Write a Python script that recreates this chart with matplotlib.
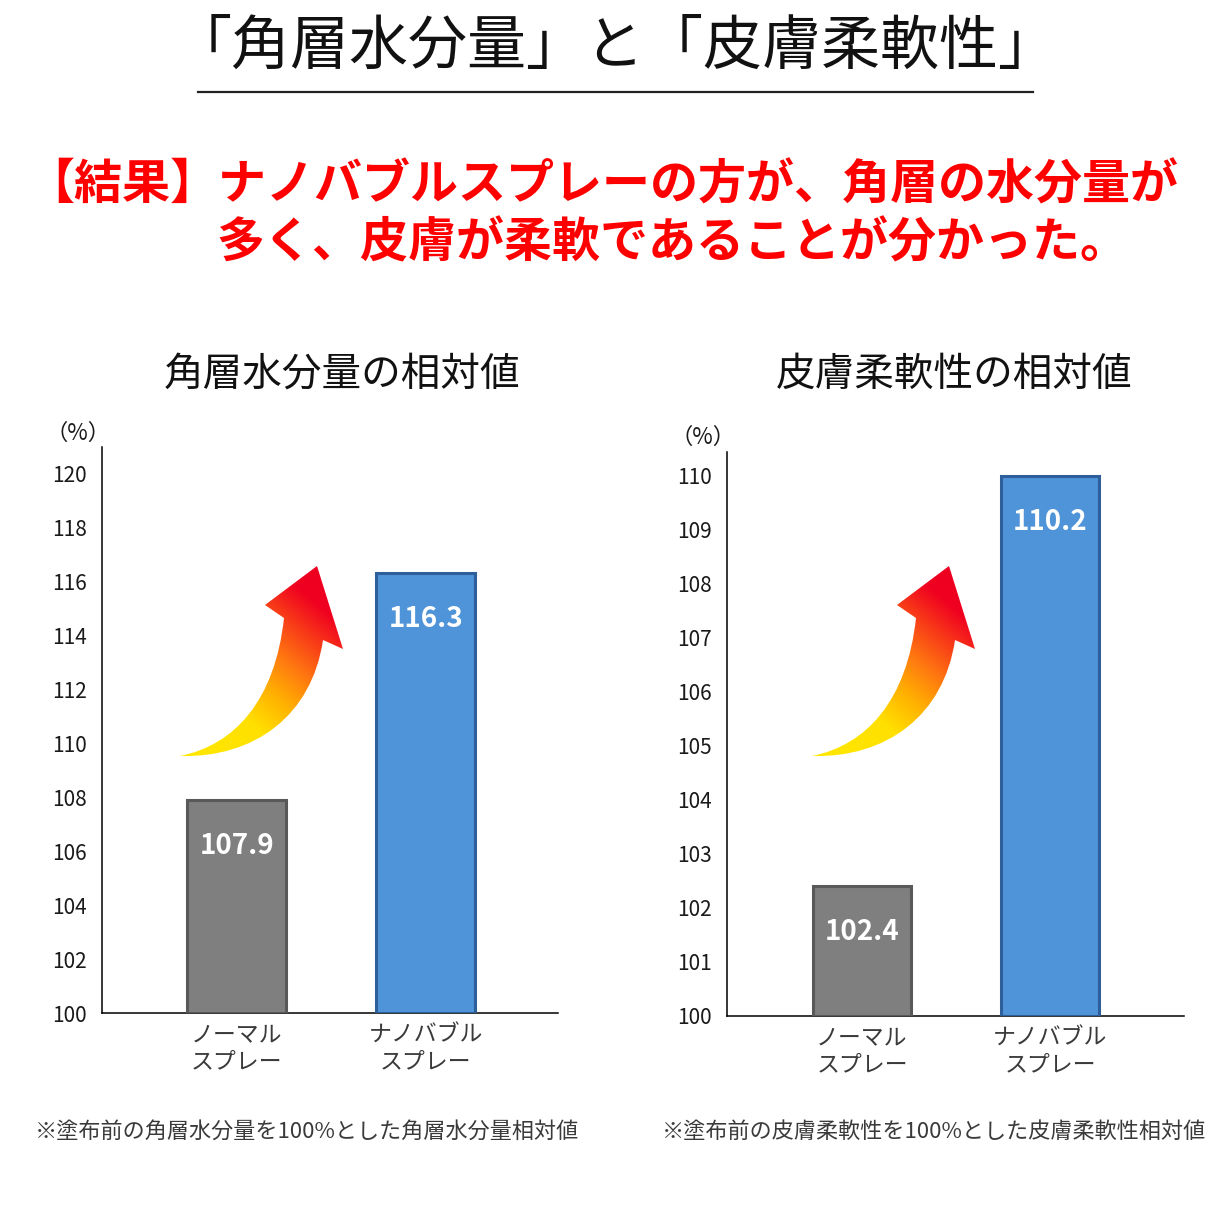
import numpy as np
import matplotlib
matplotlib.use("Agg")
import matplotlib.pyplot as plt
from matplotlib.path import Path
from matplotlib.patches import PathPatch
from matplotlib.colors import LinearSegmentedColormap

plt.rcParams['font.family'] = ['Noto Sans CJK JP', 'DejaVu Sans']

# ---------------- data ----------------
categories = ["ノーマル\nスプレー", "ナノバブル\nスプレー"]
moisture_values = [107.9, 116.3]
softness_values = [102.4, 110.2]
moisture_ticks = [100, 102, 104, 106, 108, 110, 112, 114, 116, 118, 120]
softness_ticks = [100, 101, 102, 103, 104, 105, 106, 107, 108, 109, 110]
main_title = "「角層水分量」と「皮膚柔軟性」"
result_line1 = "【結果】ナノバブルスプレーの方が、角層の水分量が"
result_line2 = "多く、皮膚が柔軟であることが分かった。"
moisture_title = "角層水分量の相対値"
softness_title = "皮膚柔軟性の相対値"
moisture_note = "※塗布前の角層水分量を100%とした角層水分量相対値"
softness_note = "※塗布前の皮膚柔軟性を100%とした皮膚柔軟性相対値"
unit_label = "（%）"

bar_fill = ["#7f7f7f", "#4f93d8"]
bar_edge = ["#595959", "#2d5f9a"]

W = H = 1230
fig = plt.figure(figsize=(12.3, 12.3), dpi=100)
fig.patch.set_facecolor("white")

def fx(px):
    return px / W

def fy(py):
    return 1 - py / H

def make_chart(rect_px, ticks, values, ylim_top, xlim):
    l, t, r, b = rect_px
    ax = fig.add_axes([fx(l), fy(b), fx(r - l), (b - t) / H])
    x = np.arange(len(values))
    heights = np.minimum(np.array(values), ticks[-1]) - ticks[0]
    ax.bar(x, heights, bottom=ticks[0], width=0.525,
           color=bar_fill, edgecolor=bar_edge, linewidth=2.2, zorder=3)
    ax.set_ylim(ticks[0], ylim_top)
    ax.set_xlim(*xlim)
    ax.set_yticks(ticks)
    ax.set_yticklabels([str(t) for t in ticks])
    ax.set_xticks(x)
    ax.set_xticklabels(categories, linespacing=1.2)
    ax.tick_params(axis='y', length=0, pad=11, labelsize=15, labelcolor="#1a1a1a")
    ax.tick_params(axis='x', length=0, pad=8, labelsize=16.5, labelcolor="#3a3a3a")
    for s in ["top", "right"]:
        ax.spines[s].set_visible(False)
    for s in ["left", "bottom"]:
        ax.spines[s].set_linewidth(1.1)
        ax.spines[s].set_color("black")
    for xi, v, hgt in zip(x, values, heights):
        ax.annotate(f"{v:.1f}", xy=(xi, ticks[0] + hgt), xytext=(0, -33),
                    textcoords="offset points", ha="center", va="center",
                    color="white", fontsize=20, fontweight="bold", zorder=5)
    return ax

ax1 = make_chart((102, 447, 558, 1013), moisture_ticks, moisture_values,
                 100 + 566 / 27.0, (-0.714, 1.70))
ax2 = make_chart((727, 452, 1184, 1016), softness_ticks, softness_values,
                 100 + 564 / 54.0, (-0.718, 1.713))

# overlay in pixel coordinates for decorations
ov = fig.add_axes([0, 0, 1, 1], zorder=10)
ov.set_xlim(0, W)
ov.set_ylim(H, 0)
ov.axis("off")
ov.patch.set_alpha(0)

ov.text(615, 47, main_title, ha="center", va="center", fontsize=42.5, color="#111111")
ov.plot([198, 1033], [92, 92], color="#222222", lw=1.6)
ov.text(26, 185, result_line1, ha="left", va="center", fontsize=34.6,
        fontweight="bold", color="#ff0000")
ov.text(216, 243, result_line2, ha="left", va="center", fontsize=34.6,
        fontweight="bold", color="#ff0000")
ov.text(342, 375, moisture_title, ha="center", va="center", fontsize=28.5, color="#111111")
ov.text(954, 375, softness_title, ha="center", va="center", fontsize=28.5, color="#111111")
ov.text(78, 433, unit_label, ha="center", va="center", fontsize=16, color="#1a1a1a")
ov.text(703, 437, unit_label, ha="center", va="center", fontsize=16, color="#1a1a1a")
ov.text(307, 1132, moisture_note, ha="center", va="center", fontsize=15.9, color="#3a3a3a")
ov.text(934, 1132, softness_note, ha="center", va="center", fontsize=15.9, color="#3a3a3a")

# gradient curved arrows
cmap = LinearSegmentedColormap.from_list(
    "arr", [(0.0, "#ffe800"), (0.3, "#ffe000"), (0.45, "#ffb400"),
            (0.6, "#ff7a10"), (0.75, "#f83a18"), (0.88, "#f00020"), (1.0, "#ee0022")])

def arrow(dx):
    verts = [(180, 756), (235, 745), (275, 700), (284, 618),
             (265, 605), (317, 566), (343, 649), (323, 640),
             (312, 715), (255, 758), (180, 756), (180, 756)]
    codes = [Path.MOVETO, Path.CURVE4, Path.CURVE4, Path.CURVE4,
             Path.LINETO, Path.LINETO, Path.LINETO, Path.LINETO,
             Path.CURVE4, Path.CURVE4, Path.CURVE4, Path.CLOSEPOLY]
    verts = [(vx + dx, vy) for vx, vy in verts]
    path = Path(verts, codes)
    patch = PathPatch(path, facecolor="none", edgecolor="none")
    ov.add_patch(patch)
    x0, x1, y0, y1 = 170 + dx, 350 + dx, 560, 765
    xs = np.linspace(x0, x1, 220)
    ys = np.linspace(y0, y1, 220)
    X, Y = np.meshgrid(xs, ys)
    d = np.array([150.0, -180.0])
    d /= np.linalg.norm(d)
    proj = (X - (180 + dx)) * d[0] + (Y - 756) * d[1]
    tip = (317 - 180) * d[0] + (566 - 756) * d[1]
    tval = np.clip(proj / tip, 0, 1)
    img = ov.imshow(tval, cmap=cmap, vmin=0, vmax=1, extent=(x0, x1, y1, y0),
                    origin="upper", interpolation="bilinear", aspect="auto", zorder=11)
    img.set_clip_path(patch)

arrow(0)
arrow(632)
ov.set_xlim(0, W)
ov.set_ylim(H, 0)

fig.savefig("out.png", dpi=100, facecolor="white")
